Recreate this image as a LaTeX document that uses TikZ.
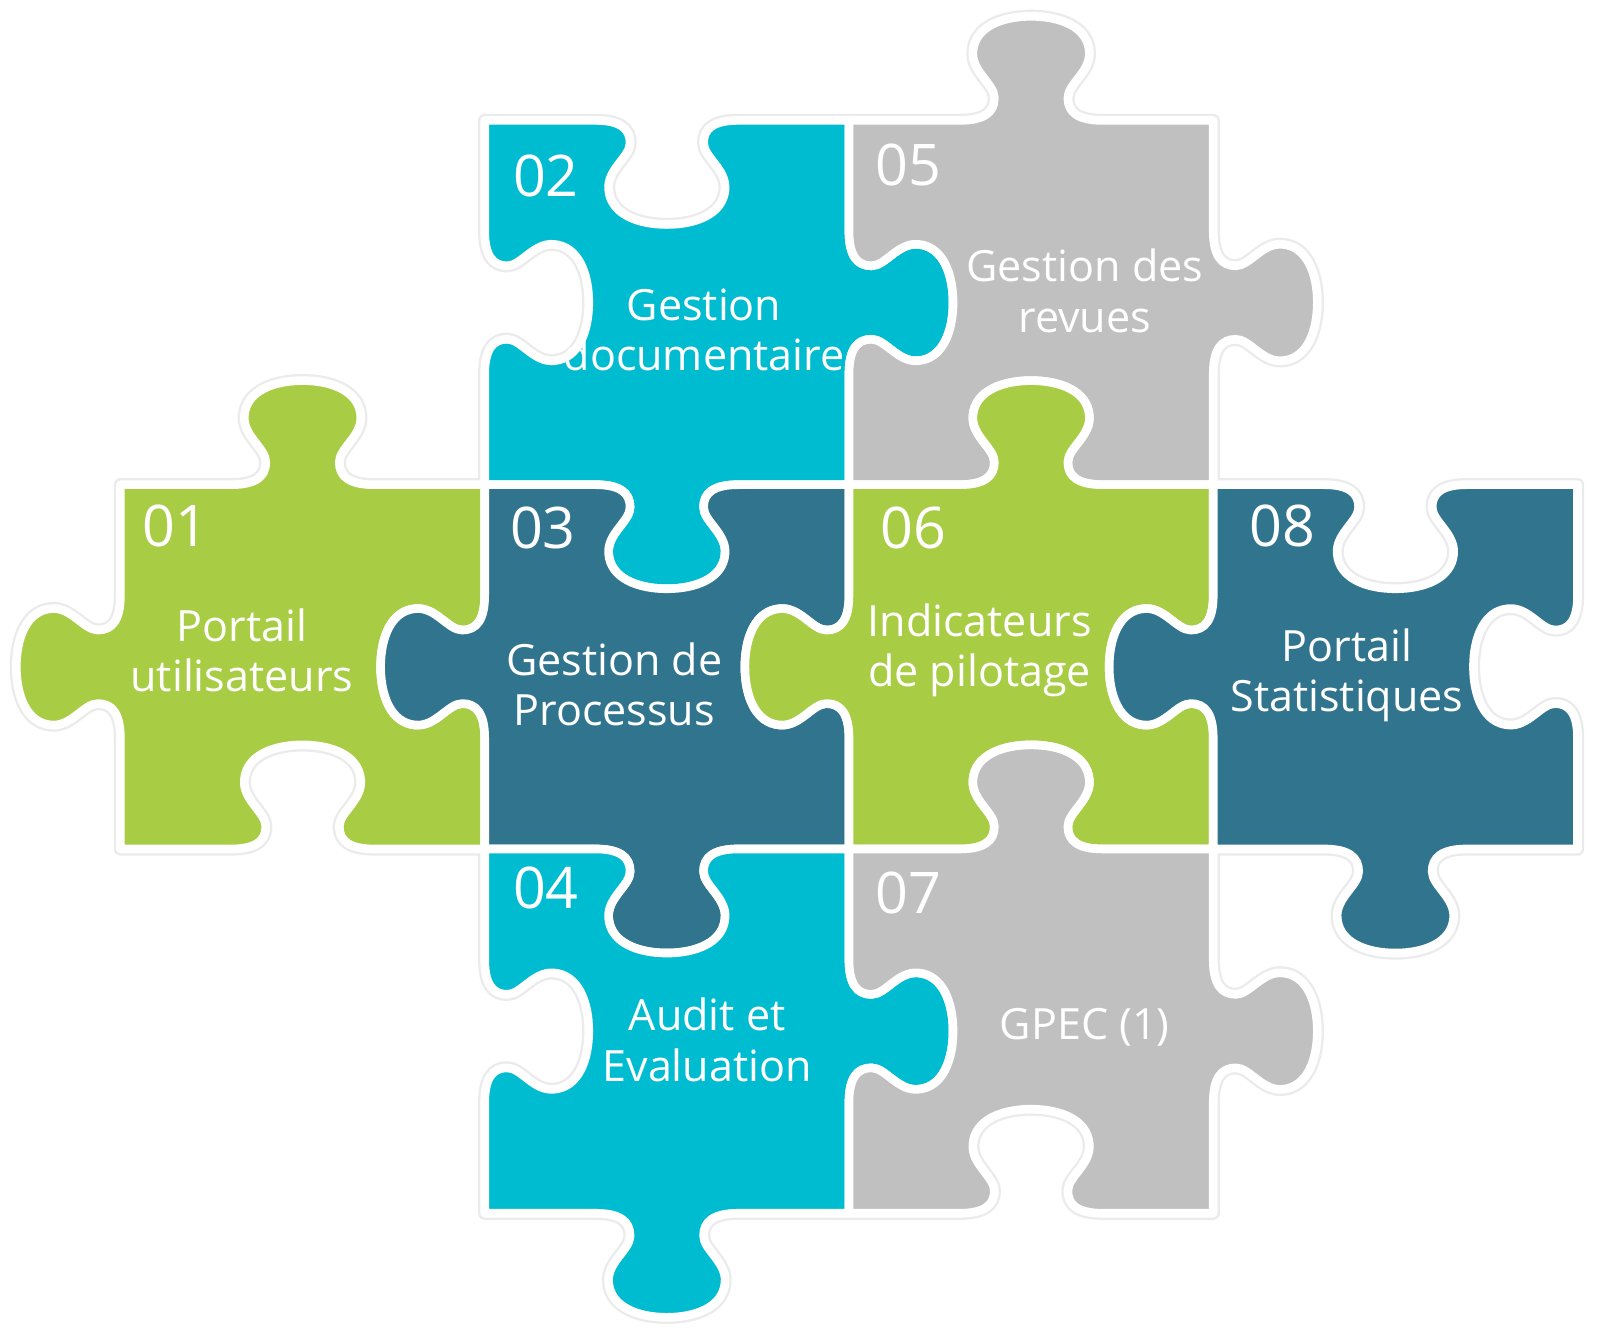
\documentclass[tikz,border=0pt]{standalone}
\usepackage{fontspec}
\setmainfont{Open Sans}
\definecolor{pzgreen}{HTML}{A8CD45}
\definecolor{pzcyan}{HTML}{00BCD0}
\definecolor{pzteal}{HTML}{31748D}
\definecolor{pzgray}{HTML}{C0C0C0}
% one side of a piece: start x, start y, direction x, direction y, sign (1 tab, -1 blank)
\newcommand\Qx[2]{(\ex)+(#1)*(\edx)+(\es)*(#2)*(\edy)}
\newcommand\Qy[2]{(\ey)+(#1)*(\edy)-(\es)*(#2)*(\edx)}
\newcommand\pzside[5]{\pgfextra{\gdef\ex{#1}\gdef\ey{#2}\gdef\edx{#3}\gdef\edy{#4}\gdef\es{#5}}%
  -- ({\Qx{108.5}{0}},{\Qy{108.5}{0}})
  .. controls ({\Qx{132.5}{0}},{\Qy{132.5}{0}}) and ({\Qx{142.5}{8}},{\Qy{142.5}{8}}) .. ({\Qx{142.5}{22}},{\Qy{142.5}{22}})
  .. controls ({\Qx{142.5}{36}},{\Qy{142.5}{36}}) and ({\Qx{119.5}{48}},{\Qy{119.5}{48}}) .. ({\Qx{121.5}{68}},{\Qy{121.5}{68}})
  .. controls ({\Qx{123.5}{92}},{\Qy{123.5}{92}}) and ({\Qx{150.5}{102}},{\Qy{150.5}{102}}) .. ({\Qx{178.5}{102}},{\Qy{178.5}{102}})
  .. controls ({\Qx{206.5}{102}},{\Qy{206.5}{102}}) and ({\Qx{233.5}{92}},{\Qy{233.5}{92}}) .. ({\Qx{235.5}{68}},{\Qy{235.5}{68}})
  .. controls ({\Qx{237.5}{48}},{\Qy{237.5}{48}}) and ({\Qx{214.5}{36}},{\Qy{214.5}{36}}) .. ({\Qx{214.5}{22}},{\Qy{214.5}{22}})
  .. controls ({\Qx{214.5}{8}},{\Qy{214.5}{8}}) and ({\Qx{224.5}{0}},{\Qy{224.5}{0}}) .. ({\Qx{248.5}{0}},{\Qy{248.5}{0}})
  -- ({\Qx{357}{0}},{\Qy{357}{0}})}
% piece: x, y, top, right, bottom, left, style
\newcommand\pzpiece[7]{\path[#7] (#1,#2) \pzside{#1}{#2}{1}{0}{#3} \pzside{#1+357}{#2}{0}{1}{#4}
  \pzside{#1+357}{#2+357}{-1}{0}{#5} \pzside{#1}{#2+357}{0}{-1}{#6} -- cycle;}
\begin{document}
\begin{tikzpicture}[x=0.01cm,y=-0.01cm,
shade/.style={draw=black!8,line width=1.3mm,line join=round},
piece/.style={fill=#1,draw=white,line width=2.4pt,line join=round},
num/.style={text=white,font=\fontsize{16}{18}\selectfont},
label/.style={text=white,align=center,font=\fontsize{12}{14}\selectfont}]
\useasboundingbox (0,0) rectangle (1568,1316);

% soft outline behind the pieces
\pzpiece{118}{475}{1}{-1}{-1}{1}{shade}
\pzpiece{475}{118}{-1}{1}{1}{-1}{shade}
\pzpiece{475}{475}{-1}{-1}{1}{1}{shade}
\pzpiece{475}{832}{-1}{1}{1}{-1}{shade}
\pzpiece{832}{118}{1}{1}{-1}{-1}{shade}
\pzpiece{832}{475}{1}{-1}{-1}{1}{shade}
\pzpiece{832}{832}{1}{1}{-1}{-1}{shade}
\pzpiece{1189}{475}{-1}{-1}{1}{1}{shade}

% pieces
\pzpiece{118}{475}{1}{-1}{-1}{1}{piece=pzgreen}
\pzpiece{475}{118}{-1}{1}{1}{-1}{piece=pzcyan}
\pzpiece{832}{118}{1}{1}{-1}{-1}{piece=pzgray}
\pzpiece{475}{475}{-1}{-1}{1}{1}{piece=pzteal}
\pzpiece{832}{475}{1}{-1}{-1}{1}{piece=pzgreen}
\pzpiece{1189}{475}{-1}{-1}{1}{1}{piece=pzteal}
\pzpiece{475}{832}{-1}{1}{1}{-1}{piece=pzcyan}
\pzpiece{832}{832}{1}{1}{-1}{-1}{piece=pzgray}

% texts
\node[num] (n01) at (172,515) {01};
\node[num] (n02) at (535,172) {02};
\node[num] (n03) at (532,517) {03};
\node[num] (n04) at (535,870) {04};
\node[num] (n05) at (890,162) {05};
\node[num] (n06) at (895,517) {06};
\node[num] (n07) at (890,875) {07};
\node[num] (n08) at (1257,515) {08};
\node[label] (t01) at (237,637) {Portail\\utilisateurs};
\node[label] (t02) at (690,323) {Gestion\\documentaire};
\node[label] (t03) at (602,671) {Gestion de\\Processus};
\node[label] (t04) at (693,1019) {Audit et\\Evaluation};
\node[label] (t05) at (1063,285) {Gestion des\\revues};
\node[label] (t06) at (960,637) {Indicateurs\\de pilotage};
\node[label] (t07) at (1063,1007) {GPEC (1)};
\node[label] (t08) at (1320,662) {Portail\\Statistiques};
\end{tikzpicture}
\end{document}
